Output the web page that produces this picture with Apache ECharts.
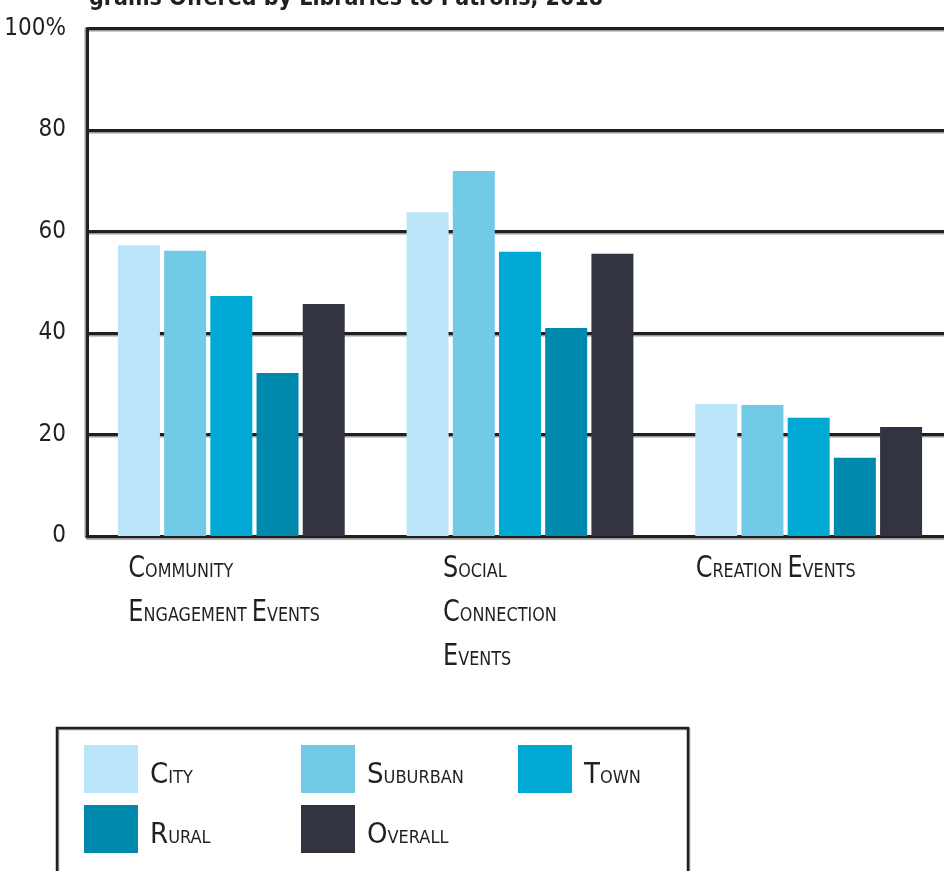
<!DOCTYPE html>
<html>
<head>
<meta charset="utf-8">
<script src="https://cdn.jsdelivr.net/npm/echarts@6/dist/echarts.min.js"></script>
<style>
    html, body { margin: 0; padding: 0; background: #fff; }
    #main { width: 944px; height: 871px; }
</style>
</head>
<body>
<div id="main"></div>
<script>
// 数据
const categories = ['Community\nEngagement Events', 'Social\nConnection\nEvents', 'Creation Events'];
const seriesNames = ['City', 'Suburban', 'Town', 'Rural', 'Overall'];
const city = [57.3, 63.8, 26.0];
const suburban = [56.2, 71.9, 25.8];
const town = [47.3, 56.0, 23.3];
const rural = [32.1, 41.0, 15.4];
const overall = [45.7, 55.6, 21.5];
const yTicks = [0, 20, 40, 60, 80, 100];
const titleText = 'grams Offered by Libraries to Patrons, 2018';

const colors = ['#bbe5f8', '#72cbe6', '#00a9d4', '#0088ad', '#323442'];
const FONT = '"Liberation Sans Narrow", "DejaVu Sans Condensed", sans-serif';
const DARK = '#231f20';

/**
 * 小型大写字母: 每个单词首字母大, 其余小号大写
 */
const smallCaps = (s) => {
    return s.split('\n').map(line =>
        line.split(' ').map(w => '{b|' + w[0] + '}{s|' + w.slice(1).toUpperCase() + '}').join('{s| }')
    ).join('\n');
};

const capsRich = {
    b: {fontSize: 29, fontFamily: FONT, color: DARK},
    s: {fontSize: 18, fontFamily: FONT, color: DARK, padding: [6, 0, 0, 0]}
};

const seriesData = [city, suburban, town, rural, overall];

// 图例分三列, 每列竖排
const legendCols = [['City', 'Rural'], ['Suburban', 'Overall'], ['Town']];
const legendColLeft = [84, 301, 518];

const chart = echarts.init(document.getElementById('main'));

const option = {
    animation: false,
    title: {
        text: titleText,
        left: 84,
        top: -17,
        textStyle: {fontFamily: FONT, fontWeight: 'bold', fontSize: 23, color: DARK}
    },
    grid: {left: 87, top: 28.5, width: 866, bottom: 335, containLabel: false, outerBoundsMode: 'none'},
    xAxis: {
        type: 'category',
        data: categories,
        axisLine: {lineStyle: {color: DARK, width: 3, shadowColor: '#9a9a9a', shadowOffsetY: 1.5}},
        axisTick: {show: false},
        axisLabel: {show: false}
    },
    yAxis: {
        type: 'value',
        min: yTicks[0],
        max: yTicks[yTicks.length - 1],
        interval: 20,
        axisLine: {show: true, lineStyle: {color: DARK, width: 3, shadowColor: '#9a9a9a', shadowOffsetX: -1.5}},
        axisTick: {show: false},
        axisLabel: {
            margin: 21,
            fontFamily: FONT,
            fontSize: 24,
            color: DARK,
            formatter: v => v === 100 ? v + '%' : String(v)
        },
        splitLine: {lineStyle: {color: DARK, width: 3, shadowColor: '#9a9a9a', shadowOffsetY: 1.5}}
    },
    legend: legendCols.map((col, i) => ({
        data: col,
        left: legendColLeft[i],
        top: 745,
        orient: 'vertical',
        padding: 0,
        itemWidth: 54,
        itemHeight: 48,
        itemGap: 12,
        icon: 'rect',
        formatter: n => smallCaps(n),
        textStyle: {padding: [12, 0, 0, 7], rich: capsRich}
    })),
    series: seriesNames.map((name, i) => ({
        name: name,
        type: 'bar',
        data: seriesData[i],
        barWidth: 42,
        barGap: '10%',
        itemStyle: {color: colors[i]}
    }))
};

chart.setOption(option);

// 类目标签: 左对齐, 相对类目中心的偏移
const labelShift = [-103, -77, -113];
const labelTop = 547;
const labels = categories.map((c, i) => ({
    type: 'text',
    x: chart.convertToPixel({xAxisIndex: 0}, c) + labelShift[i],
    y: labelTop,
    scaleX: 0.89,
    style: {
        text: smallCaps(c),
        rich: {
            b: {fontSize: 30, fontFamily: FONT, fill: DARK, lineHeight: 44},
            s: {fontSize: 20, fontFamily: FONT, fill: DARK, lineHeight: 44, padding: [5, 0, 0, 0]}
        },
        align: 'left',
        verticalAlign: 'top'
    }
}));

// 图例外框
const legendFrame = {
    type: 'rect',
    shape: {x: 57, y: 728, width: 631, height: 200},
    style: {fill: 'none', stroke: DARK, lineWidth: 2.5, shadowColor: '#9a9a9a', shadowOffsetX: 1, shadowOffsetY: 1},
    silent: true
};

chart.setOption({graphic: labels.concat([legendFrame])});
</script>
</body>
</html>
